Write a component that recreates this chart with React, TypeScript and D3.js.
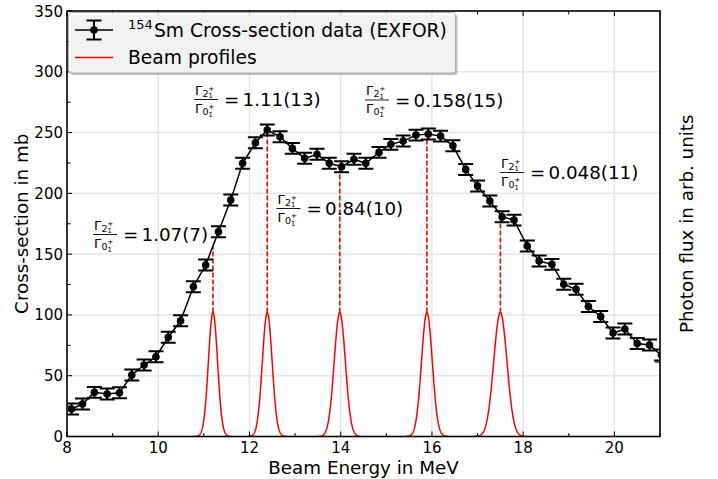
import React from 'react';
import * as d3 from 'd3';

// ---- data ----
const energy = [8.10, 8.34, 8.60, 8.88, 9.15, 9.42, 9.69, 9.95, 10.22, 10.49, 10.77, 11.04, 11.32, 11.59, 11.85, 12.13, 12.39, 12.67, 12.94, 13.21, 13.48, 13.75, 14.02, 14.29, 14.55, 14.84, 15.10, 15.37, 15.65, 15.92, 16.19, 16.46, 16.74, 17.00, 17.27, 17.54, 17.80, 18.09, 18.35, 18.63, 18.89, 19.16, 19.43, 19.70, 19.97, 20.23, 20.50, 20.77, 21.03];
const crossSection = [22.6, 26.7, 36.3, 35.0, 36.0, 50.6, 58.8, 65.6, 81.6, 95.2, 123.2, 141.0, 168.4, 194.5, 224.7, 241.6, 252.1, 246.5, 237.0, 228.8, 232.1, 224.7, 221.9, 228.0, 224.7, 233.7, 240.3, 243.0, 247.9, 248.8, 247.1, 239.1, 219.7, 206.0, 193.7, 180.8, 178.0, 156.7, 144.3, 141.6, 125.2, 121.1, 106.9, 98.7, 85.1, 88.4, 76.5, 75.2, 67.0];
const crossSectionErr = [4.5, 4.5, 4.5, 4.5, 4.5, 4.5, 4.5, 4.5, 4.5, 4.5, 4.5, 4.5, 4.5, 4.5, 4.5, 4.5, 4.5, 4.5, 4.5, 4.5, 4.5, 4.5, 4.5, 4.5, 4.5, 4.5, 4.5, 4.5, 4.5, 4.5, 4.5, 4.5, 4.5, 4.5, 4.5, 4.5, 4.5, 4.5, 4.5, 4.5, 4.5, 4.5, 4.5, 4.5, 4.5, 4.5, 4.5, 4.5, 4.5];

const beamCenters = [11.20, 12.39, 13.98, 15.89, 17.50];
const beamSigmas = [0.100, 0.107, 0.122, 0.118, 0.145];
const beamAmplitudes = [102, 102, 102, 102, 102];
const ratioLabels = ['1.07(7)', '1.11(13)', '0.84(10)', '0.158(15)', '0.048(11)'];

const xMajorTicks = [8, 10, 12, 14, 16, 18, 20];
const xMinorTicks = [9, 11, 13, 15, 17, 19, 21];
const yMajorTicks = [0, 50, 100, 150, 200, 250, 300, 350];
const yMinorTicks = [25, 75, 125, 175, 225, 275, 325];
const fluxTicks = [0.6];

// ---- layout ----
const W = 718, H = 479;
const L = 67, R = 660, T = 11, B = 436.5;
const annotationLayout = [
  { eqX: 123, yc: 235 },
  { eqX: 224, yc: 100 },
  { eqX: 306.5, yc: 209 },
  { eqX: 395, yc: 100.5 },
  { eqX: 530, yc: 173 },
];
const FONT = 'DejaVu Sans';

function Frac({ fx, yb }: { fx: number; yb: number }) {
  return (
    <g fontFamily={FONT} fill="black">
      <text x={fx + 1} y={yb - 5} fontSize={13}>Γ</text>
      <text x={fx + 8.4} y={yb - 2.8} fontSize={9.5}>2</text>
      <text x={fx + 14.6} y={yb - 9} fontSize={6.8}>+</text>
      <text x={fx + 14.6} y={yb - 1.3} fontSize={6.8}>1</text>
      <line x1={fx} x2={fx + 24} y1={yb} y2={yb} stroke="black" strokeWidth={0.9} />
      <text x={fx + 1} y={yb + 13} fontSize={13}>Γ</text>
      <text x={fx + 8.4} y={yb + 15.3} fontSize={9.5}>0</text>
      <text x={fx + 14.6} y={yb + 9.5} fontSize={6.8}>+</text>
      <text x={fx + 14.6} y={yb + 17.3} fontSize={6.8}>1</text>
    </g>
  );
}

export default function App() {
  const x = d3.scaleLinear().domain([8, 21]).range([L, R]);
  const y = d3.scaleLinear().domain([0, 350]).range([B, T]);
  const yFlux = d3.scaleLinear().domain([0, 350 / 102]).range([B, T]);

  const pts = energy.map((e, i) => ({ e, v: crossSection[i], err: crossSectionErr[i] }));
  const line = d3.line<{ e: number; v: number }>().x(d => x(d.e)).y(d => y(d.v));
  const interp = (e: number) => {
    const i = d3.bisector((d: { e: number }) => d.e).left(pts, e);
    const a = pts[Math.max(0, i - 1)], b = pts[Math.min(pts.length - 1, i)];
    if (a === b) return a.v;
    return a.v + ((b.v - a.v) * (e - a.e)) / (b.e - a.e);
  };

  const beamLine = d3.line<[number, number]>().x(d => x(d[0])).y(d => y(d[1]));
  const profiles = beamCenters.map((c, k) => {
    const s = beamSigmas[k];
    const samples = d3.range(-4, 4.001, 0.05).map(t => {
      const e = c + t * s;
      return [e, beamAmplitudes[k] * Math.exp(-0.5 * t * t)] as [number, number];
    });
    return beamLine(samples) || '';
  });

  return (
    <svg width={W} height={H} viewBox={`0 0 ${W} ${H}`} style={{ position: 'absolute', left: 0, top: 0, background: 'white' }}>
      <defs>
        <clipPath id="plotclip">
          <rect x={L} y={T} width={R - L} height={B - T} />
        </clipPath>
      </defs>
      <rect x={0} y={0} width={W} height={H} fill="white" />
      {/* grid */}
      <g stroke="#e6e6e6" strokeWidth={1.5}>
        {xMajorTicks.filter(t => t > 8).map(t => (
          <line key={'gx' + t} x1={x(t)} x2={x(t)} y1={T} y2={B} />
        ))}
        {yMajorTicks.filter(t => t > 0 && t < 350).map(t => (
          <line key={'gy' + t} x1={L} x2={R} y1={y(t)} y2={y(t)} />
        ))}
      </g>

      <g clipPath="url(#plotclip)">
        {profiles.map((p, k) => (
          <path key={'bp' + k} d={p} fill="none" stroke="red" strokeWidth={1.5} />
        ))}
        {beamCenters.map((c, k) => (
          <line key={'dl' + k} x1={x(c)} x2={x(c)} y1={y(beamAmplitudes[k])} y2={y(interp(c))}
            stroke="red" strokeWidth={1.6} strokeDasharray="5 2" />
        ))}
        <path d={line(pts) || ''} fill="none" stroke="black" strokeWidth={1.5} />
        {pts.map((p, i) => (
          <g key={'eb' + i} stroke="black" strokeWidth={2}>
            <line x1={x(p.e)} x2={x(p.e)} y1={y(p.v - p.err)} y2={y(p.v + p.err)} />
            <line x1={x(p.e) - 7.5} x2={x(p.e) + 7.5} y1={y(p.v - p.err)} y2={y(p.v - p.err)} />
            <line x1={x(p.e) - 7.5} x2={x(p.e) + 7.5} y1={y(p.v + p.err)} y2={y(p.v + p.err)} />
          </g>
        ))}
        {pts.map((p, i) => (
          <circle key={'pt' + i} cx={x(p.e)} cy={y(p.v)} r={3.8} fill="black" />
        ))}
      </g>

      {/* ticks */}
      <g stroke="black" strokeWidth={1}>
        {xMajorTicks.map(t => (
          <g key={'xt' + t}>
            <line x1={x(t)} x2={x(t)} y1={B} y2={B - 5} />
            <line x1={x(t)} x2={x(t)} y1={T} y2={T + 5} />
          </g>
        ))}
        {xMinorTicks.map(t => (
          <g key={'xm' + t}>
            <line x1={x(t)} x2={x(t)} y1={B} y2={B - 3.5} />
            <line x1={x(t)} x2={x(t)} y1={T} y2={T + 3.5} />
          </g>
        ))}
        {yMajorTicks.map(t => (
          <line key={'yt' + t} x1={L} x2={L + 5} y1={y(t)} y2={y(t)} />
        ))}
        {yMinorTicks.map(t => (
          <line key={'ym' + t} x1={L} x2={L + 3.5} y1={y(t)} y2={y(t)} />
        ))}
        {fluxTicks.map(t => (
          <line key={'ft' + t} x1={R} x2={R - 5} y1={yFlux(t)} y2={yFlux(t)} />
        ))}
      </g>
      <rect x={L} y={T} width={R - L} height={B - T} fill="none" stroke="black" strokeWidth={1.6} />

      {/* tick labels */}
      <g fontFamily={FONT} fontSize={15} fill="black">
        {xMajorTicks.map(t => (
          <text key={'xl' + t} x={x(t)} y={452.5} textAnchor="middle">{t}</text>
        ))}
        {yMajorTicks.map(t => (
          <text key={'yl' + t} x={L - 4} y={y(t) + 5.5} textAnchor="end">{t}</text>
        ))}
      </g>

      {/* axis labels */}
      <g fontFamily={FONT} fontSize={18.3} fill="black">
        <text x={(L + R) / 2} y={474} textAnchor="middle">Beam Energy in MeV</text>
        <text transform={`translate(28,${(T + B) / 2}) rotate(-90)`} textAnchor="middle">Cross-section in mb</text>
        <text transform={`translate(693,${(T + B) / 2}) rotate(-90)`} textAnchor="middle">Photon flux in arb. units</text>
      </g>

      {/* legend */}
      <g>
        <rect x={70.5} y={14.5} width={387} height={60.5} rx={3} fill="#808080" opacity={0.5} />
        <rect x={68.5} y={12.5} width={387} height={60.5} rx={3} fill="white" fillOpacity={0.8} stroke="#b0b0b0" strokeWidth={1} />
        <line x1={75} x2={113} y1={30} y2={30} stroke="black" strokeWidth={1.5} />
        <g stroke="black" strokeWidth={2}>
          <line x1={94} x2={94} y1={20.5} y2={39.5} />
          <line x1={86.5} x2={101.5} y1={20.5} y2={20.5} />
          <line x1={86.5} x2={101.5} y1={39.5} y2={39.5} />
        </g>
        <circle cx={94} cy={30} r={3.8} fill="black" />
        <line x1={75} x2={113} y1={57.5} y2={57.5} stroke="red" strokeWidth={1.5} />
        <g fontFamily={FONT} fill="black">
          <text x={128} y={29} fontSize={13}>154</text>
          <text x={154} y={36.5} fontSize={18.7}>Sm Cross-section data (EXFOR)</text>
          <text x={128} y={64} fontSize={18.7}>Beam profiles</text>
        </g>
      </g>

      {/* annotations */}
      {annotationLayout.map((a, k) => (
        <g key={'an' + k}>
          <Frac fx={a.eqX - 30} yb={a.yc - 0.5} />
          <text x={a.eqX} y={a.yc + 6} fontFamily={FONT} fontSize={18.3}>=</text>
          <text x={a.eqX + 18.5} y={a.yc + 6} fontFamily={FONT} fontSize={18.3}>{ratioLabels[k]}</text>
        </g>
      ))}
    </svg>
  );
}
